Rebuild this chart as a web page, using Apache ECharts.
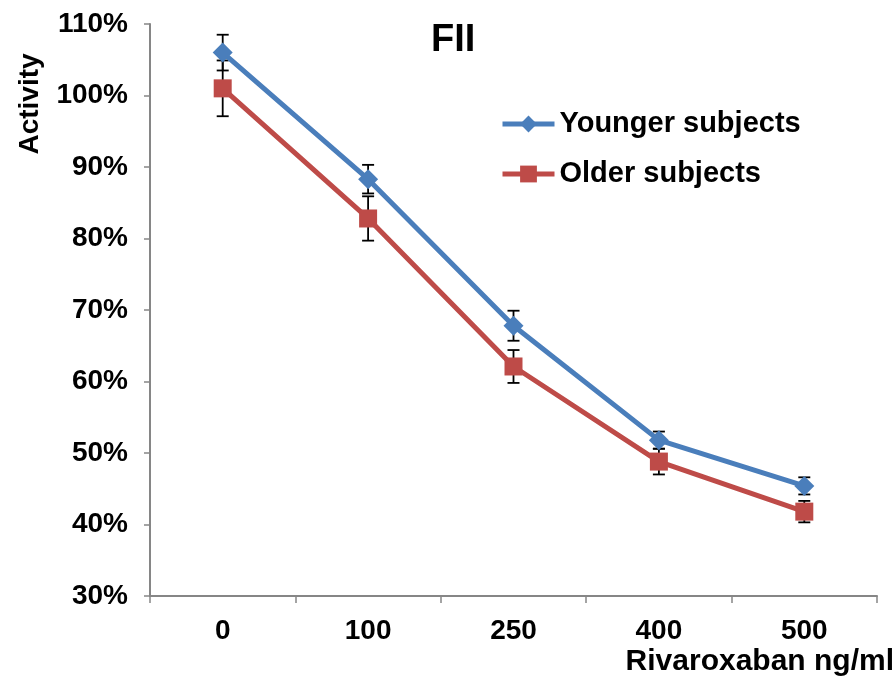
<!DOCTYPE html>
<html>
<head>
<meta charset="utf-8">
<script src="https://cdn.jsdelivr.net/npm/echarts@6/dist/echarts.min.js"></script>
<style>
  html, body { margin: 0; padding: 0; background: #fff; }
  #chart { width: 895px; height: 685px; }
</style>
</head>
<body>
<div id="chart"></div>
<script>
// Rivaroxaban concentration (ng/ml)
const categories = ['0', '100', '250', '400', '500'];
// FII activity (%) with standard error
const younger = [106.0, 88.3, 67.8, 51.8, 45.4];
const youngerErr = [2.5, 2.0, 2.1, 1.2, 1.2];
const older = [101.0, 82.8, 62.1, 48.8, 41.8];
const olderErr = [3.9, 3.1, 2.3, 1.8, 1.5];
const yTicks = [30, 40, 50, 60, 70, 80, 90, 100, 110];

const FONT = '"Liberation Sans", Arial, Helvetica, sans-serif';
const BLUE = '#4A7EBB';
const RED = '#BE4B48';

function errData(vals, errs) {
  return vals.map((v, i) => [i, v - errs[i], v + errs[i]]);
}

function renderErr(params, api) {
  const lo = api.coord([api.value(0), api.value(1)]);
  const hi = api.coord([api.value(0), api.value(2)]);
  const half = 6;
  const style = { stroke: '#000', lineWidth: 1.8 };
  return {
    type: 'group',
    children: [
      { type: 'line', shape: { x1: lo[0], y1: lo[1], x2: hi[0], y2: hi[1] }, style },
      { type: 'line', shape: { x1: lo[0] - half, y1: lo[1], x2: lo[0] + half, y2: lo[1] }, style },
      { type: 'line', shape: { x1: hi[0] - half, y1: hi[1], x2: hi[0] + half, y2: hi[1] }, style }
    ]
  };
}

const chart = echarts.init(document.getElementById('chart'), null, { renderer: 'canvas' });
chart.setOption({
  animation: false,
  backgroundColor: '#fff',
  grid: { left: 150, right: 18, top: 24, bottom: 89, containLabel: false },
  legend: {
    orient: 'vertical',
    left: 495,
    top: 104,
    itemWidth: 52,
    itemHeight: 21,
    itemGap: 20,
    lineStyle: { width: 5 },
    data: ['Younger subjects', 'Older subjects'],
    textStyle: { fontFamily: FONT, fontWeight: 'bold', fontSize: 29, color: '#000', lineHeight: 30 }
  },
  graphic: [
    { type: 'text', left: 431, top: 22, style: { text: 'FII', font: 'bold 38px ' + FONT, fill: '#000' } },
    {
      type: 'text', x: 30, y: 104, rotation: Math.PI / 2,
      style: { text: 'Activity', font: 'bold 28px ' + FONT, fill: '#000', align: 'center', verticalAlign: 'middle' }
    },
    {
      type: 'text', x: 894, y: 662,
      style: { text: 'Rivaroxaban ng/ml', font: 'bold 30px ' + FONT, fill: '#000', align: 'right', verticalAlign: 'middle' }
    }
  ],
  xAxis: {
    type: 'category',
    data: categories,
    boundaryGap: true,
    axisLine: { lineStyle: { color: '#868686', width: 2 } },
    axisTick: { show: true, length: 7, lineStyle: { color: '#868686', width: 1.5 } },
    axisLabel: { margin: 21, fontFamily: FONT, fontWeight: 'bold', fontSize: 28, color: '#000' },
    splitLine: { show: false }
  },
  yAxis: {
    type: 'value',
    min: yTicks[0],
    max: yTicks[yTicks.length - 1],
    interval: 10,
    axisLine: { show: true, lineStyle: { color: '#868686', width: 2 } },
    axisTick: { show: true, length: 6, lineStyle: { color: '#868686', width: 1.5 } },
    axisLabel: { margin: 22, fontFamily: FONT, fontWeight: 'bold', fontSize: 28, color: '#000', formatter: '{value}%' },
    splitLine: { show: false }
  },
  series: [
    {
      type: 'custom', name: 'youngerErr', renderItem: renderErr,
      data: errData(younger, youngerErr), z: 1, silent: true
    },
    {
      type: 'custom', name: 'olderErr', renderItem: renderErr,
      data: errData(older, olderErr), z: 1, silent: true
    },
    {
      name: 'Older subjects', type: 'line', data: older, z: 2,
      symbol: 'rect', symbolSize: 18,
      lineStyle: { color: RED, width: 5 },
      itemStyle: { color: RED }
    },
    {
      name: 'Younger subjects', type: 'line', data: younger, z: 3,
      symbol: 'diamond', symbolSize: 20,
      lineStyle: { color: BLUE, width: 5 },
      itemStyle: { color: BLUE }
    }
  ]
});
</script>
</body>
</html>
